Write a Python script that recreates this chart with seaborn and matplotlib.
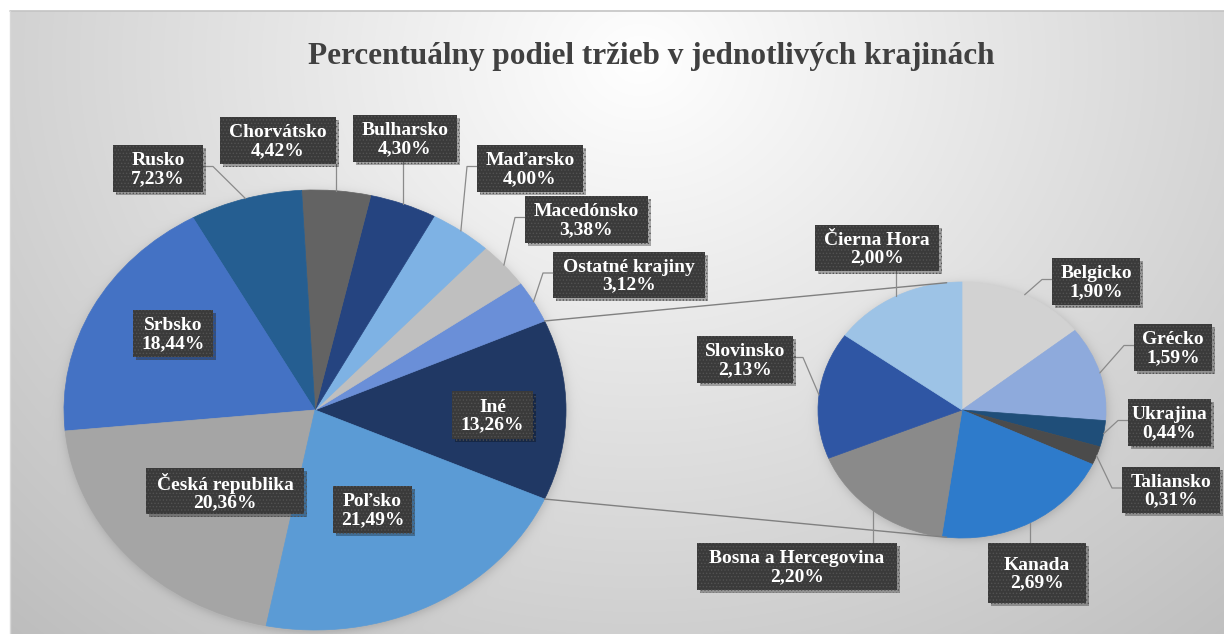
import numpy as np
import matplotlib
matplotlib.use("Agg")
import matplotlib.pyplot as plt
import matplotlib.patheffects as pe
from matplotlib.patches import Rectangle
import seaborn as sns

# ---------------------------------------------------------------- data
title = "Percentuálny podiel tržieb v jednotlivých krajinách"

# main pie, counter-clockwise starting with the aggregated "Iné" wedge
main_labels = ["Iné", "Ostatné krajiny", "Macedónsko", "Maďarsko", "Bulharsko",
               "Chorvátsko", "Rusko", "Srbsko", "Česká republika", "Poľsko"]
main_values = [13.26, 3.12, 3.38, 4.00, 4.30, 4.42, 7.23, 18.44, 20.36, 21.49]
main_hex = ["#203864", "#6A8FD8", "#BFBFBF", "#7EB2E4", "#254480",
            "#636363", "#255E91", "#4472C4", "#A5A5A5", "#5B9BD5"]

# breakdown of "Iné", clockwise from 12 o'clock
sub_labels = ["Belgicko", "Grécko", "Ukrajina", "Taliansko", "Kanada",
              "Bosna a Hercegovina", "Slovinsko", "Čierna Hora"]
sub_values = [1.90, 1.59, 0.44, 0.31, 2.69, 2.20, 2.13, 2.00]
sub_hex = ["#D2D2D2", "#8EAADC", "#1F4E79", "#4B4B4B", "#2E7BCB",
           "#8A8A8A", "#2F56A4", "#9DC3E6"]

# ---------------------------------------------------------------- layout (pixels, y down)
W, H = 1224, 634
MAIN_GEOM = (315, 410, 251, 220)   # cx, cy, rx, ry
SUB_GEOM = (962, 410, 144, 128)
FRAME_X, FRAME_Y = 10, 11

BOXES = {
    "Rusko": (113, 145, 203, 192),
    "Chorvátsko": (220, 117, 336, 164),
    "Bulharsko": (353, 115, 457, 162),
    "Maďarsko": (477, 145, 583, 192),
    "Macedónsko": (525, 196, 648, 243),
    "Ostatné krajiny": (553, 252, 705, 298),
    "Srbsko": (133, 310, 213, 357),
    "Česká republika": (146, 468, 304, 514),
    "Poľsko": (333, 486, 412, 533),
    "Iné": (452, 391, 533, 439),
    "Čierna Hora": (815, 225, 939, 271),
    "Belgicko": (1052, 258, 1140, 305),
    "Grécko": (1134, 324, 1212, 371),
    "Ukrajina": (1128, 399, 1211, 446),
    "Taliansko": (1122, 467, 1220, 513),
    "Kanada": (988, 543, 1086, 603),
    "Bosna a Hercegovina": (697, 543, 897, 590),
    "Slovinsko": (697, 336, 793, 383),
}
INSIDE = {"Srbsko", "Česká republika", "Poľsko", "Iné"}

# ---------------------------------------------------------------- style
sns.set_theme(style="white")
plt.rcParams["font.family"] = ["Liberation Serif", "DejaVu Serif"]
plt.rcParams["hatch.linewidth"] = 0.6
main_colors = sns.color_palette(main_hex)
sub_colors = sns.color_palette(sub_hex)

fig = plt.figure(figsize=(W / 100, H / 100), dpi=100, facecolor="white")

# ---------------------------------------------------------------- background with soft pie halos
yy, xx = np.mgrid[0:H, 0:W] + 0.5
shade = 255 - 50 * np.sqrt(((xx - 640) / 700) ** 2 + ((yy - 60) / 600) ** 2)
for cx, cy, rx, ry in (MAIN_GEOM, SUB_GEOM):
    s = np.sqrt(((xx - cx - 1) / rx) ** 2 + ((yy - cy - 2) / ry) ** 2)
    dist = (s - 1) * (rx + ry) / 2
    halo = 1 / (1 + np.exp(np.clip(dist / 5 * 1.6, -50, 50)))
    shade = shade - 40 * halo
shade = np.clip(shade, 180, 255) / 255
rgb = np.dstack([shade] * 3)
rgb[:FRAME_Y, :, :] = 1
rgb[:, :FRAME_X, :] = 1

bg = fig.add_axes([0, 0, 1, 1], zorder=0)
bg.imshow(rgb, extent=(0, W, H, 0), interpolation="bilinear", aspect="auto")
bg.set_xlim(0, W)
bg.set_ylim(H, 0)
bg.axis("off")


# ---------------------------------------------------------------- pies
def pie_axes(geom):
    cx, cy, rx, ry = geom
    a = fig.add_axes([(cx - rx) / W, 1 - (cy + ry) / H, 2 * rx / W, 2 * ry / H], zorder=1)
    return a


main_ax = pie_axes(MAIN_GEOM)
iné_share = main_values[0] / sum(main_values) * 360
main_wedges, _ = main_ax.pie(main_values, colors=main_colors, startangle=-iné_share / 2,
                             counterclock=True, radius=1,
                             wedgeprops=dict(linewidth=0.5))
sub_ax = pie_axes(SUB_GEOM)
sub_wedges, _ = sub_ax.pie(sub_values, colors=sub_colors, startangle=90,
                           counterclock=False, radius=1,
                           wedgeprops=dict(linewidth=0.5))
for a, ws in ((main_ax, main_wedges), (sub_ax, sub_wedges)):
    for w in ws:
        w.set_edgecolor(w.get_facecolor())
    a.set_xlim(-1, 1)
    a.set_ylim(-1, 1)
    a.set_aspect("auto")
    a.axis("off")

# ---------------------------------------------------------------- overlay: frame, title, connectors, labels
ov = fig.add_axes([0, 0, 1, 1], zorder=2)
ov.set_xlim(0, W)
ov.set_ylim(H, 0)
ov.patch.set_visible(False)
ov.axis("off")


def to_px(pax, x, y):
    return ov.transData.inverted().transform(pax.transData.transform((x, y)))


def on_edge(pax, ang):
    t = np.radians(ang)
    return to_px(pax, np.cos(t), np.sin(t))


ov.plot([FRAME_X, W], [FRAME_Y - 0.5, FRAME_Y - 0.5], color="#c4c4c4", lw=1.2, zorder=1)
ov.plot([FRAME_X - 0.5, FRAME_X - 0.5], [FRAME_Y, H], color="#d8d8d8", lw=1.0, zorder=1)

ov.text(651, 64, title, ha="center", va="baseline", fontsize=22.5, fontweight="bold",
        color="#404040", zorder=6)

# connector lines from the "Iné" wedge to tangents of the breakdown pie
iné = main_wedges[0]
inv_sub = sub_ax.transData.inverted()
for ang, upper in ((iné.theta2, True), (iné.theta1, False)):
    p = on_edge(main_ax, ang)
    q = inv_sub.transform(ov.transData.transform(p))
    base = np.arctan2(q[1], q[0])
    off = np.arccos(1 / np.hypot(*q))
    cands = [base + off, base - off]
    tang = max(cands, key=np.sin) if upper else min(cands, key=np.sin)
    e = to_px(sub_ax, np.cos(tang), np.sin(tang))
    ov.plot([p[0], e[0]], [p[1], e[1]], color="#808080", lw=1.0, zorder=3)


def draw_label(name, value, pax, wedge):
    x0, y0, x1, y1 = BOXES[name]
    if name not in INSIDE:
        mid = (wedge.theta1 + wedge.theta2) / 2
        ex, ey = on_edge(pax, mid)
        if x0 - 3 <= ex <= x1 + 3:
            ty = y1 if ey > y1 else y0
            ov.plot([ex, ex], [ey, ty], color="#8a8a8a", lw=0.9, zorder=3)
        else:
            side = x0 if ex < x0 else x1
            elbow = side - 10 if ex < x0 else side + 10
            ym = (y0 + y1) / 2 - 2
            ov.plot([ex, elbow, side], [ey, ym, ym], color="#8a8a8a", lw=0.9, zorder=3)
    box = Rectangle((x0, y0), x1 - x0, y1 - y0, facecolor="#3a3a3a",
                    edgecolor="#525252", linewidth=0, hatch=".....", zorder=4)
    box.set_path_effects([pe.SimplePatchShadow(offset=(2.5, -2.5), shadow_rgbFace="black",
                                               alpha=0.3), pe.Normal()])
    ov.add_patch(box)
    pct = f"{value:.2f}%".replace(".", ",")
    ov.text((x0 + x1) / 2, (y0 + y1) / 2 + 1, f"{name}\n{pct}", ha="center", va="center",
            multialignment="center", fontsize=14, fontweight="bold", color="white",
            linespacing=1.05, zorder=5)


for name, val, w in zip(main_labels, main_values, main_wedges):
    draw_label(name, val, main_ax, w)
for name, val, w in zip(sub_labels, sub_values, sub_wedges):
    draw_label(name, val, sub_ax, w)

fig.savefig("out.png", dpi=100, facecolor="white")
